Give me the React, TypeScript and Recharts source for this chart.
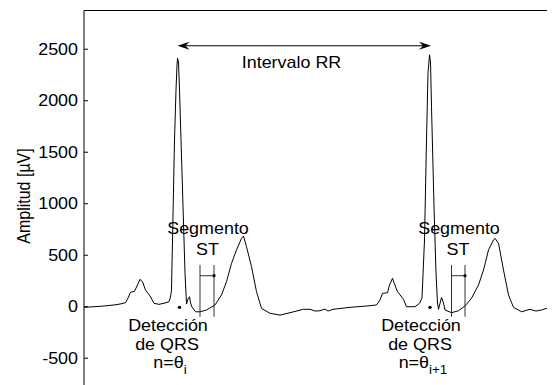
import { LineChart, Line, XAxis, YAxis, ReferenceLine, ReferenceDot } from 'recharts';

// ECG trace: sample index vs amplitude in µV
const sampleIdx = [
  0, 20, 40, 60, 72, 83, 88, 93, 101, 107, 112, 117, 123, 132, 140, 150, 162, 170, 173, 175,
  177, 181, 184, 186, 187, 189, 191, 196, 202, 205, 208, 211, 213, 216, 223, 232, 245, 262, 275, 285,
  295, 305, 315, 319, 325, 335, 345, 355, 372, 392, 412, 439, 452, 462, 472, 482, 488, 498, 512, 532,
  565, 585, 592, 597, 607, 611, 617, 621, 627, 639, 645, 662, 671, 676, 681, 685, 688, 691, 693, 695,
  700, 704, 707, 709, 715, 719, 722, 735, 749, 762, 775, 789, 799, 809, 819, 822, 829, 839, 849, 859,
  875, 892, 904, 915, 924, 935, 942,
];
const amplitudeUV = [
  -6, 0, 7, 17, 26, 39, 84, 140, 150, 211, 266, 243, 162, 104, 33, 23, 36, 49, 94, 162,
  648, 1619, 2104, 2347, 2412, 2376, 2104, 1299, 328, 26, 75, 97, 36, -3, -49, -49, -32, 17, 114, 243,
  421, 551, 664, 686, 583, 388, 146, -16, -64, -81, -58, -25, -25, -42, -39, -22, -42, -25, -17, -6,
  7, 17, 65, 130, 136, 211, 276, 220, 146, 72, 0, 0, 33, 84, 648, 1619, 2266, 2446, 2376, 1942,
  971, 327, 36, -25, 90, 36, -32, -58, -39, 7, 82, 211, 356, 551, 648, 664, 616, 356, 114, -6,
  -49, -25, -42, -32, -17, -6, 7,
];

const yTicks = [-500, 0, 500, 1000, 1500, 2000, 2500];
const yDomain = [-760, 2876];
const xDomain = [0, 942];

// annotations (data units)
const qrsDetections = [191, 692];
const qrsDotLevel = -6;
const rrStart = 187;
const rrEnd = 694;
const rrLevel = 2534;
const stSegments = [[232, 260], [735, 762]];
const stTop = 405;
const stBottom = -97;
const stLevel = 301;

const labels = [
  { n: 415, v: 2318, text: 'Intervalo RR' },
  { n: 248, v: 706, text: 'Segmento' },
  { n: 247, v: 502, text: 'ST' },
  { n: 168, v: -236, text: 'Detección' },
  { n: 166, v: -417, text: 'de QRS' },
  { n: 750, v: 706, text: 'Segmento' },
  { n: 748, v: 502, text: 'ST' },
  { n: 674, v: -236, text: 'Detección' },
  { n: 672, v: -417, text: 'de QRS' },
];
const thetaLabels = [
  { n: 172, v: -592, sub: 'i' },
  { n: 678, v: -592, sub: 'i+1' },
];

const data = sampleIdx.map((n, i) => ({ n, v: amplitudeUV[i] }));

const FONT = "'Liberation Sans', Arial, Helvetica, sans-serif";
const STRETCH = 1.12;

function Txt({ x, y, children }: { x: number; y: number; children: any }) {
  return (
    <text
      transform={`translate(${x},${y}) scale(${STRETCH},1)`}
      textAnchor="middle"
      fontSize={16}
      fontFamily={FONT}
      fill="#000"
    >
      {children}
    </text>
  );
}

function YTick({ x, y, payload }: any) {
  return (
    <g transform={`translate(${x},${y})`}>
      <text transform={`scale(${STRETCH},1)`} textAnchor="end" dy={5.7} fontSize={16} fontFamily={FONT} fill="#000">
        {payload.value}
      </text>
    </g>
  );
}

function RRArrow(props: any) {
  const { x1, y1, x2 } = props;
  const y = y1;
  return (
    <g>
      <line x1={x1 + 6} y1={y} x2={x2 - 6} y2={y} stroke="#000" strokeWidth={1.2} />
      <path d={`M${x1},${y} L${x1 + 12},${y - 4} L${x1 + 8},${y} L${x1 + 12},${y + 4} Z`} fill="#000" />
      <path d={`M${x2},${y} L${x2 - 12},${y - 4} L${x2 - 8},${y} L${x2 - 12},${y + 4} Z`} fill="#000" />
    </g>
  );
}

export default function App() {
  return (
    <LineChart
      width={547}
      height={377}
      data={data}
      margin={{ top: 2.5, right: 0, bottom: 0, left: 0 }}
      style={{ fontFamily: FONT }}
    >
      <XAxis dataKey="n" type="number" domain={xDomain} allowDataOverflow hide />
      <YAxis
        type="number"
        domain={yDomain}
        allowDataOverflow
        ticks={yTicks}
        width={76}
        tickSize={-4}
        tickMargin={10}
        tick={<YTick />}
        axisLine={{ stroke: '#000' }}
        tickLine={{ stroke: '#000' }}
      />
      <ReferenceLine y={yDomain[1]} stroke="#000" ifOverflow="extendDomain" />
      <text
        transform="translate(22,188) rotate(-90) scale(1,1.12)"
        textAnchor="middle"
        fontSize={16}
        fontFamily={FONT}
        fill="#000"
      >
        Amplitud [µV]
      </text>

      <Line
        type="linear"
        dataKey="v"
        stroke="#000"
        strokeWidth={1}
        dot={false}
        isAnimationActive={false}
      />

      <ReferenceLine
        segment={[{ x: rrStart, y: rrLevel }, { x: rrEnd, y: rrLevel }]}
        shape={<RRArrow />}
      />

      {stSegments.map(([a, b], i) => (
        <g key={`st${i}`}>
          <ReferenceLine segment={[{ x: a, y: stTop }, { x: a, y: stBottom }]} stroke="#333" strokeWidth={1} />
          <ReferenceLine segment={[{ x: b, y: stTop }, { x: b, y: stBottom }]} stroke="#333" strokeWidth={1} />
          <ReferenceLine segment={[{ x: a, y: stLevel }, { x: b, y: stLevel }]} stroke="#333" strokeWidth={1} />
          <ReferenceDot x={b} y={stLevel} r={1.6} fill="#000" stroke="none" />
        </g>
      ))}

      {qrsDetections.map((n, i) => (
        <ReferenceDot key={`q${i}`} x={n} y={qrsDotLevel} r={1.7} fill="#000" stroke="none" />
      ))}

      {labels.map((l, i) => (
        <ReferenceDot
          key={`l${i}`}
          x={l.n}
          y={l.v}
          r={1}
          shape={(p: any) => <Txt x={p.cx} y={p.cy}>{l.text}</Txt>}
        />
      ))}
      {thetaLabels.map((l, i) => (
        <ReferenceDot
          key={`t${i}`}
          x={l.n}
          y={l.v}
          r={1}
          shape={(p: any) => (
            <Txt x={p.cx} y={p.cy}>
              n=θ<tspan fontSize={12} dy={6}>{l.sub}</tspan>
            </Txt>
          )}
        />
      ))}
    </LineChart>
  );
}
